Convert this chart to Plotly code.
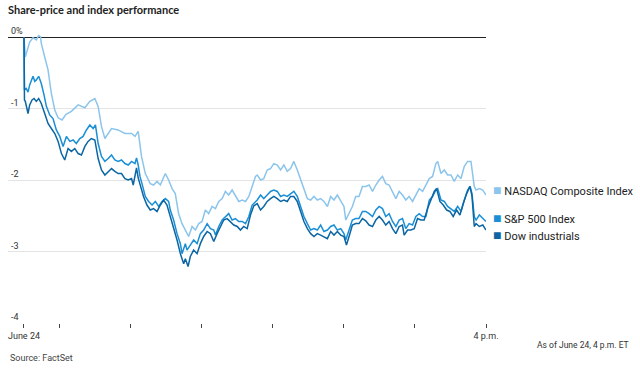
import plotly.graph_objects as go

# minutes after 9:30 a.m. and % change
nasdaq_t = [0, 1.1, 4.8, 7.6, 10.4, 12.4, 14, 14.6, 17.5, 20.3, 23.1, 26, 28.8, 32.1, 35.5, 40, 45.7, 51.4, 55.6, 59.8,
            62.6, 65.4, 68.3, 73.9, 79.5, 85.2, 90.8, 93.7, 96.4, 99.2, 102.4, 106.6, 109.4, 112.3, 115.1, 119.3, 122.1,
            125, 127.7, 130.5, 133.4, 136.2, 139, 141.9, 144.7, 147.5, 150.3, 153.1, 155.9, 158.8, 161.6, 164.4, 167.3,
            170, 172.8, 175.7, 178.5, 181.3, 184.2, 187, 189.8, 192.6, 195.4, 196.9, 199.7, 202.4, 205.3, 208.1, 210.9,
            213.8, 216.6, 219.4, 222.2, 225, 227.8, 230.7, 233.5, 236.3, 239.2, 242, 244.8, 247.6, 250.4, 253.2, 256.1,
            258.9, 261.7, 264.5, 267.4, 270.1, 271.6, 274.4, 277.2, 280, 282.8, 285.7, 288.5, 291.3, 294.2, 297, 299.8,
            302.6, 305.4, 308.2, 311.1, 313.9, 316.7, 319.5, 322.3, 325.1, 328, 330.8, 333.6, 336.5, 339.3, 342.1, 344.9,
            347.7, 349.2, 352, 354.8, 357.6, 360.4, 363.2, 366.1, 368.9, 371.7, 374.5, 377.3, 378.8, 380.1, 381.6, 384.4,
            387.3, 390]
nasdaq_v = [0, -0.28, -0.07, -0.01, -0.04, 0.02, 0.0, -0.09, -0.28, -0.46, -0.79, -1.02, -1.13, -1.16, -1.08, -1.04,
            -0.95, -0.99, -0.9, -0.86, -0.97, -1.25, -1.42, -1.28, -1.3, -1.35, -1.35, -1.39, -1.32, -1.67, -1.91, -2.05,
            -2.07, -2.02, -2.07, -1.91, -2.0, -2.12, -2.19, -2.47, -2.61, -2.70, -2.79, -2.65, -2.70, -2.61, -2.58, -2.42,
            -2.47, -2.37, -2.40, -2.30, -2.26, -2.16, -2.21, -2.14, -2.23, -2.30, -2.28, -2.30, -2.23, -2.09, -1.95,
            -1.93, -2.0, -1.98, -1.86, -1.84, -1.77, -1.79, -1.86, -1.79, -1.88, -1.84, -1.74, -1.86, -2.0, -2.12, -2.26,
            -2.28, -2.23, -2.28, -2.26, -2.30, -2.37, -2.23, -2.28, -2.21, -2.30, -2.37, -2.56, -2.47, -2.37, -2.23,
            -2.23, -2.09, -2.09, -2.07, -2.16, -2.07, -2.0, -1.95, -2.05, -2.07, -2.16, -2.26, -2.16, -2.21, -2.28,
            -2.23, -2.30, -2.21, -2.12, -2.16, -2.07, -1.98, -1.95, -1.77, -1.74, -1.91, -1.86, -1.93, -1.93, -2.02,
            -1.93, -1.98, -1.81, -1.74, -1.74, -1.91, -2.09, -2.14, -2.12, -2.14, -2.21]

sp_t = [0, 0.4, 1.9, 3.4, 4.8, 6.2, 7.6, 9.1, 10.4, 12.4, 14.6, 16.9, 18.9, 21.7, 24.5, 27.3, 30.2, 33, 35.8, 38.7,
        41.5, 44.2, 47.1, 49.9, 52.7, 55.6, 58.4, 60.3, 62.6, 65.4, 68.3, 71.1, 73.9, 76.7, 79.5, 82.3, 85.2, 88, 90.8,
        93.7, 95, 96.4, 97.9, 99.6, 102.4, 105.2, 108.1, 110.9, 113.7, 116.5, 119.3, 122.1, 123.5, 126.3, 129.2, 132,
        133.4, 136.2, 137.6, 140.4, 143.2, 146.1, 148.9, 151.7, 154.6, 157.4, 160.2, 161.6, 164.4, 167.3, 170, 172.8,
        175.7, 178.5, 181.3, 184.2, 187, 189.8, 192.6, 195.4, 196.9, 199.7, 202.4, 205.3, 208.1, 210.9, 213.8, 216.6,
        219.4, 222.2, 225, 227.8, 230.7, 233.5, 236.3, 239.2, 242, 244.8, 247.6, 250.4, 253.2, 256.1, 258.9, 261.7,
        264.5, 267.4, 270.1, 271.6, 274.4, 277.2, 280, 282.8, 285.7, 288.5, 291.3, 294.2, 297, 299.8, 302.6, 305.4,
        308.2, 311.1, 313.9, 316.7, 319.5, 322.3, 325.1, 328, 330.8, 333.6, 336.5, 339.3, 342.1, 344.9, 347.7, 349.2,
        352, 354.8, 357.6, 360.4, 363.2, 366.1, 368.9, 371.7, 374.5, 376.5, 378.2, 380.1, 381.6, 384.4, 387.3, 390]
sp_v = [0, -0.74, -0.72, -0.77, -0.67, -0.60, -0.55, -0.62, -0.60, -0.55, -0.65, -0.81, -0.97, -1.09, -1.14, -1.30,
        -1.39, -1.53, -1.39, -1.46, -1.44, -1.49, -1.42, -1.39, -1.30, -1.23, -1.28, -1.23, -1.49, -1.67, -1.74, -1.70,
        -1.65, -1.72, -1.74, -1.72, -1.77, -1.79, -1.74, -1.77, -1.69, -1.79, -1.95, -2.05, -2.23, -2.30, -2.35, -2.30,
        -2.37, -2.30, -2.26, -2.30, -2.42, -2.56, -2.75, -2.89, -3.03, -2.89, -2.98, -2.91, -2.84, -2.89, -2.75, -2.70,
        -2.61, -2.68, -2.70, -2.77, -2.65, -2.56, -2.51, -2.47, -2.56, -2.54, -2.58, -2.58, -2.61, -2.51, -2.35, -2.30,
        -2.28, -2.21, -2.26, -2.21, -2.16, -2.14, -2.16, -2.23, -2.21, -2.23, -2.19, -2.16, -2.23, -2.37, -2.51, -2.61,
        -2.70, -2.68, -2.70, -2.63, -2.72, -2.70, -2.65, -2.63, -2.70, -2.68, -2.75, -2.84, -2.70, -2.56, -2.54, -2.54,
        -2.44, -2.44, -2.47, -2.51, -2.42, -2.37, -2.40, -2.51, -2.47, -2.58, -2.65, -2.56, -2.54, -2.68, -2.61, -2.63,
        -2.51, -2.47, -2.51, -2.51, -2.28, -2.23, -2.14, -2.12, -2.28, -2.30, -2.37, -2.40, -2.44, -2.37, -2.44, -2.28,
        -2.14, -2.09, -2.19, -2.51, -2.56, -2.49, -2.54, -2.58]

dow_t = [0, 0.4, 1.1, 3.4, 4.8, 6.8, 8.5, 10.4, 12.4, 14.6, 17.5, 20.3, 23.1, 26, 28.8, 31.6, 34.4, 37.2, 40, 42.9,
         45.7, 48.5, 51.4, 54.1, 56.9, 59.8, 62.6, 65.4, 68.3, 71.1, 73.9, 76.7, 79.5, 82.3, 85.2, 88, 90.8, 92.2, 93.7,
         95, 96.4, 98.1, 100.9, 103.8, 106.6, 109.4, 112.3, 115.1, 117.9, 120.7, 123.5, 126.3, 129.2, 132, 134.8, 136.2,
         138.5, 140.4, 143.2, 146.1, 148.9, 151.7, 154.6, 157.4, 160.2, 163, 165.8, 168.6, 171.5, 174.3, 177.1, 180,
         182.7, 185.5, 188.4, 191.2, 194, 196.9, 199.7, 202.4, 205.3, 208.1, 210.9, 213.8, 216.6, 219.4, 222.2, 225,
         227.8, 230.7, 233.5, 236.3, 239.2, 242, 244.8, 247.6, 250.4, 253.2, 256.1, 258.9, 261.7, 264.5, 267.4, 270.1,
         272.2, 274.4, 277.2, 280, 282.8, 285.7, 288.5, 291.3, 294.2, 297, 299.8, 302.6, 305.4, 308.2, 311.1, 313.9,
         316.7, 319.5, 320.9, 323.8, 326.6, 329.4, 332.2, 335, 337.8, 340.7, 343.5, 346.3, 348.3, 351.1, 353.9, 356.8,
         359.5, 362.3, 365.2, 368, 370.8, 373.7, 376.5, 378.2, 380.1, 381.6, 384.4, 387.3, 390]
dow_v = [0, -0.88, -0.90, -1.07, -0.95, -0.88, -0.86, -0.90, -0.86, -0.93, -1.07, -1.21, -1.28, -1.35, -1.46, -1.63,
         -1.72, -1.56, -1.60, -1.56, -1.63, -1.65, -1.53, -1.46, -1.42, -1.44, -1.70, -1.86, -1.93, -1.88, -1.84, -1.88,
         -1.91, -1.91, -1.98, -2.0, -1.98, -2.07, -1.95, -1.83, -1.97, -2.08, -2.23, -2.35, -2.42, -2.40, -2.44, -2.35,
         -2.28, -2.35, -2.51, -2.65, -2.84, -3.03, -3.17, -3.10, -3.21, -3.07, -2.98, -3.03, -2.89, -2.79, -2.72, -2.75,
         -2.86, -2.75, -2.65, -2.56, -2.54, -2.58, -2.63, -2.65, -2.70, -2.65, -2.68, -2.49, -2.36, -2.33, -2.42, -2.37,
         -2.30, -2.26, -2.23, -2.26, -2.30, -2.28, -2.30, -2.23, -2.23, -2.30, -2.44, -2.58, -2.68, -2.75, -2.79, -2.75,
         -2.77, -2.79, -2.82, -2.72, -2.77, -2.72, -2.77, -2.79, -2.91, -2.79, -2.63, -2.61, -2.61, -2.54, -2.57, -2.63,
         -2.65, -2.56, -2.51, -2.56, -2.63, -2.58, -2.68, -2.75, -2.65, -2.63, -2.77, -2.70, -2.70, -2.68, -2.54, -2.56,
         -2.56, -2.40, -2.28, -2.16, -2.12, -2.30, -2.35, -2.42, -2.44, -2.51, -2.42, -2.49, -2.33, -2.19, -2.09, -2.23,
         -2.65, -2.61, -2.65, -2.63, -2.70]

series_names = ["NASDAQ Composite Index", "S&P 500 Index", "Dow industrials"]
series_colors = ["#8cc5ec", "#1a8fd6", "#0b66a3"]
label_values = [-2.14, -2.53, -2.77]

tick_vals = [0, 30, 90, 150, 210, 270, 330, 390]
tick_text = ["June 24", "", "", "", "", "", "", "4 p.m."]
y_ticks = [0, -1, -2, -3, -4]
y_text = ["0%", "-1", "-2", "-3", "-4"]

FONT = "Roboto, Arial, sans-serif"

fig = go.Figure()
for t, v, name, col in zip([nasdaq_t, sp_t, dow_t], [nasdaq_v, sp_v, dow_v], series_names, series_colors):
    fig.add_trace(go.Scatter(x=t, y=v, mode="lines", name=name,
                             line=dict(color=col, width=1.5), showlegend=False, hoverinfo="skip"))

annotations = []
for val, txt in zip(y_ticks, y_text):
    annotations.append(dict(x=0, xref="paper", y=val, yref="y", text=txt, showarrow=False,
                            xanchor="left", yanchor="bottom", xshift=1, yshift=-1,
                            font=dict(family=FONT, size=9, color="#333")))
for name, col, lv in zip(series_names, series_colors, label_values):
    annotations.append(dict(x=1, xref="paper", y=lv, yref="y",
                            text=f'<span style="color:{col};font-size:14px">■</span> {name}', showarrow=False,
                            xanchor="left", yanchor="middle", xshift=5,
                            font=dict(family=FONT, size=11, color="#222")))
annotations.append(dict(x=0, xref="paper", y=-0.12, yref="paper", text="Source: FactSet", showarrow=False,
                        xanchor="left", yanchor="middle", font=dict(family=FONT, size=9, color="#444")))
annotations.append(dict(x=1.303, xref="paper", y=-0.075, yref="paper", text="As of June 24, 4 p.m. ET",
                        showarrow=False, xanchor="right", yanchor="middle",
                        font=dict(family=FONT, size=8.5, color="#333")))

fig.update_layout(
    width=640, height=370,
    margin=dict(l=8, r=154, t=30, b=47),
    paper_bgcolor="white", plot_bgcolor="white",
    title=dict(text="<b>Share-price and index performance</b>", x=0.0125, xanchor="left",
               y=0.972, yanchor="middle", font=dict(family="Lato, sans-serif", size=11, color="#222")),
    xaxis=dict(range=[-13.5, 390], tickvals=tick_vals, ticktext=tick_text, ticks="outside", ticklen=4,
               tickcolor="#444", tickwidth=1, showgrid=False, zeroline=False, showline=False,
               tickfont=dict(family=FONT, size=9, color="#333")),
    yaxis=dict(range=[-4, 0.098], tickvals=y_ticks, showticklabels=False, showgrid=True,
               gridcolor="#e4e4e4", gridwidth=1, zeroline=True, zerolinecolor="#222", zerolinewidth=1.3,
               showline=False),
    annotations=annotations,
)

fig.write_html("out.html", config={"displayModeBar": False},
               post_script="document.body.style.margin='0';document.body.style.overflow='hidden';")
